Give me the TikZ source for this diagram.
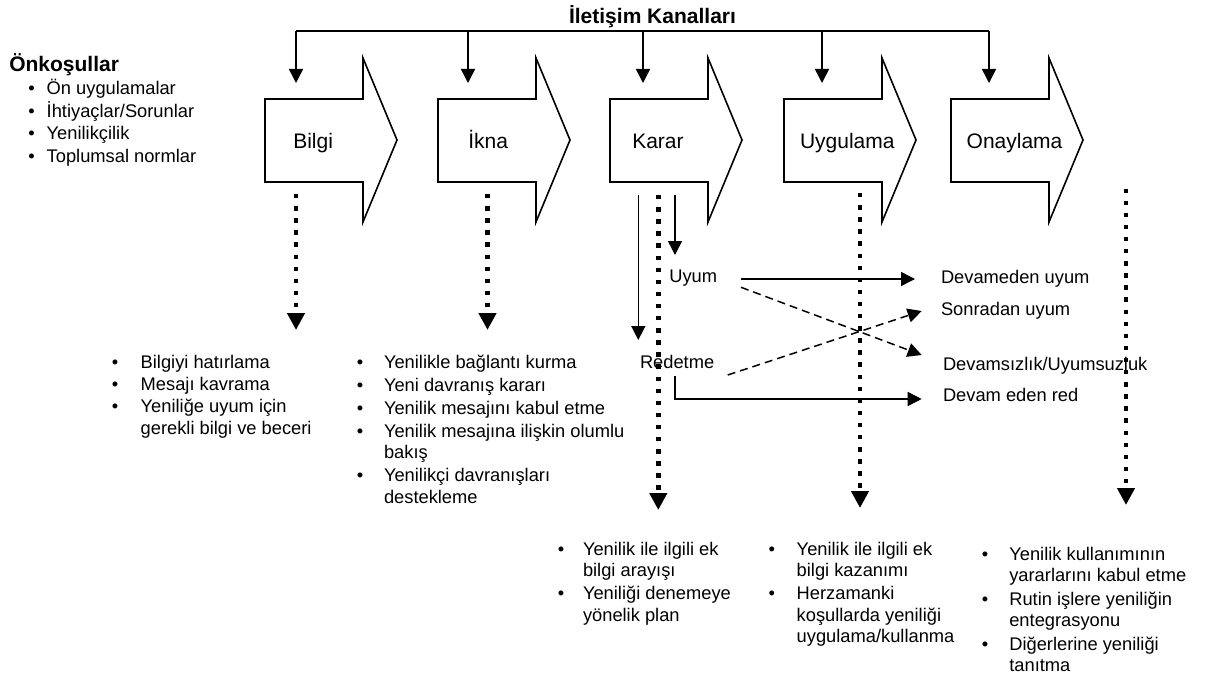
\documentclass[tikz,border=0pt]{standalone}
\usepackage{fontspec}
\setmainfont{Liberation Sans}
\usetikzlibrary{arrows.meta}
\newcommand\li[4]{\node[txt] (#1) at (#2,#3) {#4};}
\newcommand\bli[5]{\node[txt] (#1) at (#2,#3) {#5};\node[txt,anchor=base] (#1-b) at (#2-#4,#3) {•};}
\begin{document}
\begin{tikzpicture}[x=1pt,y=-1pt,
  txt/.style={inner sep=0pt,outer sep=0pt,anchor=base west,font=\fontsize{18.3}{21.5}\selectfont},
  lbl/.style={inner sep=0pt,outer sep=0pt,anchor=base west,font=\fontsize{21}{25}\selectfont},
  headtxt/.style={inner sep=0pt,outer sep=0pt,font=\bfseries\fontsize{21}{25}\selectfont},
  stage/.style={draw,line width=1.6pt,line join=miter,fill=white},
  arr/.style={line width=1.5pt,-{Triangle[length=14pt,width=14pt]}},
  darr/.style={line width=1.5pt,dash pattern=on 8pt off 5pt,-{Triangle[length=14pt,width=14pt]}},
  dots/.style={line width=4.6pt,dash pattern=on 4.4pt off 7.7pt,-{Triangle[length=17pt,width=17pt]}},
]
\useasboundingbox (0,0) rectangle (1207,677);

% title and channel bar
\node[headtxt,anchor=base] (title) at (652.5,23.5) {İletişim Kanalları};
\coordinate (barL) at (296,31);
\coordinate (barR) at (989,31);
\draw[line width=1.5pt] (barL) -- (barR);
\foreach \x [count=\i] in {296,468,643,822,989}{
  \coordinate (c\i) at (\x,31);
  \coordinate (e\i) at (\x,83);
  \draw[arr] (c\i) -- (e\i);
}

% stage arrows
\foreach \L in {265,438,610,784,951}{
  \draw[stage] (\L,99) -- (\L+98,99) -- (\L+98,58) -- (\L+132,140) -- (\L+98,222) -- (\L+98,182) -- (\L,182) -- cycle;
}
\node[lbl] (bilgi) at (293.3,148) {Bilgi};
\node[lbl] (ikna) at (468.3,148) {İkna};
\node[lbl] (karar) at (632.3,148) {Karar};
\node[lbl] (uygulama) at (800,148) {Uygulama};
\node[lbl] (onaylama) at (966.7,148) {Onaylama};

% prerequisites
\node[headtxt,anchor=base west] (onk) at (9.3,71.7) {Önkoşullar};
\bli{p1}{46.7}{94.5}{15}{Ön uygulamalar}
\bli{p2}{46.7}{117}{15}{İhtiyaçlar/Sorunlar}
\bli{p3}{46.7}{139.5}{15}{Yenilikçilik}
\bli{p4}{46.7}{162}{15}{Toplumsal normlar}

% dotted arrows
\coordinate (d1s) at (296,194);  \coordinate (d1e) at (296,330);
\coordinate (d2s) at (487.5,194);\coordinate (d2e) at (487.5,330);
\coordinate (d3s) at (658.3,195);\coordinate (d3e) at (658.3,510);
\coordinate (d4s) at (860,193);  \coordinate (d4e) at (860,508);
\coordinate (d5s) at (1126,188.5);\coordinate (d5e) at (1126,505);
\foreach \i in {1,...,5}{ \draw[dots] (d\i s) -- (d\i e); }

% decision branch
\node[txt] (uyum) at (669.3,282.7) {Uyum};
\node[txt] (red) at (640,368) {Redetme};
\node[txt] (devuyum) at (941,283.3) {Devameden uyum};
\node[txt] (sonuyum) at (941,315.7) {Sonradan uyum};
\node[txt] (devsiz) at (943,370) {Devamsızlık/Uyumsuzluk};
\node[txt] (devred) at (943,401.7) {Devam eden red};

\coordinate (k1s) at (638.3,195); \coordinate (k1e) at (638.3,340);
\coordinate (k2s) at (675,195);   \coordinate (k2e) at (675,255);
\draw[arr] (k1s) -- (k1e);
\draw[arr] (k2s) -- (k2e);

\coordinate (u1) at (741,279);   \coordinate (u1e) at (915,279);
\coordinate (u2) at (741,287.3); \coordinate (u2e) at (921.7,355);
\coordinate (r2) at (727.7,375); \coordinate (r2e) at (921.7,311);
\coordinate (r1) at (675,375.7); \coordinate (r1e) at (921.7,399);
\draw[arr] (u1) -- (u1e);
\draw[darr] (u2) -- (u2e);
\draw[darr] (r2) -- (r2e);
\draw[arr] (r1) |- (r1e);

% Bilgi list
\bli{a1}{140.7}{368}{25.7}{Bilgiyi hatırlama}
\bli{a2}{140.7}{390}{25.7}{Mesajı kavrama}
\bli{a3}{140.7}{412.5}{25.7}{Yeniliğe uyum için}
\li{a4}{140.7}{434.5}{gerekli bilgi ve beceri}

% Ikna list
\bli{b1}{384}{368}{24}{Yenilikle bağlantı kurma}
\bli{b2}{384}{391}{24}{Yeni davranış kararı}
\bli{b3}{384}{414}{24}{Yenilik mesajını kabul etme}
\bli{b4}{384}{437}{24}{Yenilik mesajına ilişkin olumlu}
\li{b5}{384}{458.5}{bakış}
\bli{b6}{384}{481.5}{24}{Yenilikçi davranışları}
\li{b7}{384}{503}{destekleme}

% Karar list
\bli{k1}{583}{555}{22}{Yenilik ile ilgili ek}
\li{k2}{583}{576.5}{bilgi arayışı}
\bli{k3}{583}{599.5}{22}{Yeniliği denemeye}
\li{k4}{583}{621}{yönelik plan}

% Uygulama list
\bli{g1}{796.7}{555}{25}{Yenilik ile ilgili ek}
\li{g2}{796.7}{576.5}{bilgi kazanımı}
\bli{g3}{796.7}{599.5}{25}{Herzamanki}
\li{g4}{796.7}{621}{koşullarda yeniliği}
\li{g5}{796.7}{642.5}{uygulama/kullanma}

% Onaylama list
\bli{o1}{1009.3}{560}{24.3}{Yenilik kullanımının}
\li{o2}{1009.3}{581.5}{yararlarını kabul etme}
\bli{o3}{1009.3}{605}{24.3}{Rutin işlere yeniliğin}
\li{o4}{1009.3}{626.5}{entegrasyonu}
\bli{o5}{1009.3}{650}{24.3}{Diğerlerine yeniliği}
\li{o6}{1009.3}{671.5}{tanıtma}
\end{tikzpicture}
\end{document}
